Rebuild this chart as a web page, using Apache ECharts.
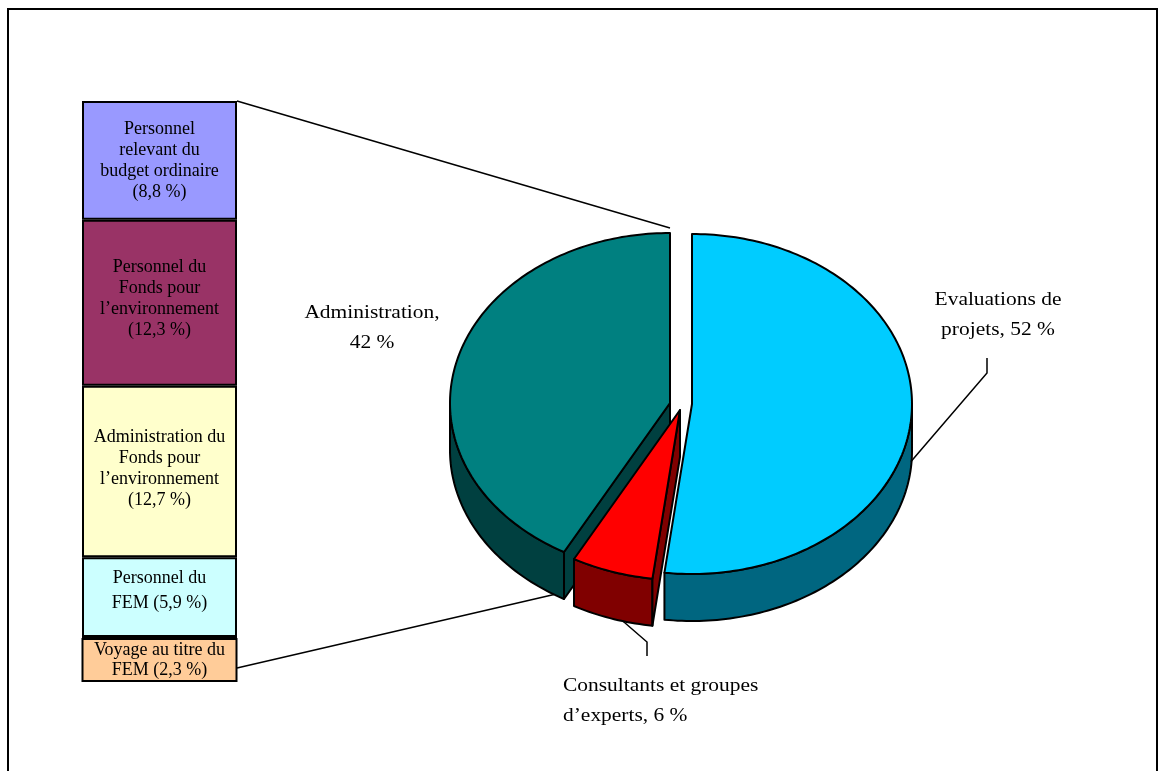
<!DOCTYPE html>
<html>
<head>
<meta charset="utf-8">
<script src="https://cdn.jsdelivr.net/npm/echarts@6/dist/echarts.min.js"></script>
<style>
  html, body { margin: 0; padding: 0; background: #fff; }
  #chart { width: 1161px; height: 771px; }
</style>
</head>
<body>
<div id="chart"></div>
<script>
// Main split of the budget (3-D pie)
const pieNames = ['Evaluations de\nprojets', 'Consultants et groupes\nd’experts', 'Administration'];
const pieValues = [52, 6, 42];
const pieValueSep = [' ', ' ', '\n'];

// Breakdown of the administration share (stacked bar)
const barCategories = ['Administration'];
const barNames = [
  'Personnel\nrelevant du\nbudget ordinaire',
  'Personnel du\nFonds pour\nl’environnement',
  'Administration du\nFonds pour\nl’environnement',
  'Personnel du\nFEM',
  'Voyage au titre du\nFEM'
];
const barValues = [8.8, 12.3, 12.7, 5.9, 2.3];
const barValueSep = ['\n', '\n', '\n', ' ', ' '];

// ---- styles ----
const FONT = '"Liberation Serif", "Times New Roman", serif';
const pieTopColors = ['#00CCFF', '#FF0000', '#008080'];
const pieSideColors = ['#006680', '#800000', '#004040'];
const barColors = ['#9999FF', '#993366', '#FFFFCC', '#CCFFFF', '#FFCC99'];

const PIE = { cx: 680, cy: 404, rx: 220, ry: 170, depth: 47 };
const explode = [[12, 0], [0, 6], [-10, -1]];
const sliceZ = [10, 20, 10];
const GRID = { left: 82, top: 101, width: 155, height: 567 };

const pieLabelLayout = [
  { x: 998, y: 315, align: 'center', leader: { angle: 96, dz: 40, elbow: [987, 373], end: [987, 358] } },
  { x: 563, y: 701, align: 'left', leader: { angle: 195, dz: 47, elbow: [647, 642], end: [647, 656] } },
  { x: 372, y: 328, align: 'center' }
];
const barLabelShift = [0, -4, -3, -6, 7.5];

const fmt = v => String(v).replace('.', ',');

// slice angles, clockwise from 12 o'clock
const pieTotal = pieValues.reduce((a, b) => a + b, 0);
const sliceAngles = [];
(function () {
  let acc = 0;
  pieValues.forEach(v => {
    const a0 = acc / pieTotal * Math.PI * 2;
    acc += v;
    sliceAngles.push([a0, acc / pieTotal * Math.PI * 2]);
  });
})();

function pt(i, t, dz) {
  const ox = PIE.cx + explode[i][0], oy = PIE.cy + explode[i][1];
  return [ox + PIE.rx * Math.sin(t), oy - PIE.ry * Math.cos(t) + (dz || 0)];
}
function ctr(i, dz) {
  return [PIE.cx + explode[i][0], PIE.cy + explode[i][1] + (dz || 0)];
}
function arc(i, a, b, dz) {
  const n = Math.max(2, Math.ceil((b - a) / 0.02));
  const pts = [];
  for (let k = 0; k <= n; k++) pts.push(pt(i, a + (b - a) * k / n, dz));
  return pts;
}

const edge = { stroke: '#000', lineWidth: 2, lineJoin: 'round' };

function renderSlice(params, api) {
  const i = params.dataIndex;
  const [a0, a1] = sliceAngles[i];
  const z = sliceZ[i];
  const d = PIE.depth;
  const children = [];

  // outer wall (front half only)
  const s = Math.max(a0, Math.PI / 2), e = Math.min(a1, Math.PI * 1.5);
  if (e > s) {
    const upper = arc(i, s, e, 0);
    const lower = arc(i, s, e, d).reverse();
    children.push({ type: 'polygon', z2: z, shape: { points: upper.concat(lower) },
      style: Object.assign({ fill: pieSideColors[i] }, edge) });
  }
  // radial cut faces turned toward the viewer
  const face = a => {
    const p = pt(i, a, 0), q = pt(i, a, d);
    children.push({ type: 'polygon', z2: z + 1,
      shape: { points: [ctr(i, 0), p, q, ctr(i, d)] },
      style: Object.assign({ fill: pieSideColors[i] }, edge) });
  };
  if (Math.sin(a0) < -1e-6) face(a0);
  if (Math.sin(a1) > 1e-6) face(a1);

  // top face
  children.push({ type: 'polygon', z2: z + 2,
    shape: { points: [ctr(i, 0)].concat(arc(i, a0, a1, 0)) },
    style: Object.assign({ fill: pieTopColors[i] }, edge) });

  // label + leader
  const L = pieLabelLayout[i];
  const text = pieNames[i] + ',' + pieValueSep[i] + fmt(pieValues[i]) + ' %';
  children.push({ type: 'text', z2: 40, x: L.x, y: L.y, scaleX: 1.1, originX: 0, originY: 0,
    style: { text: text, x: 0, y: 0, fill: '#000', fontSize: 19.5, fontFamily: FONT,
      align: L.align, verticalAlign: 'middle', lineHeight: 30 } });
  if (L.leader) {
    const st = pt(i, L.leader.angle * Math.PI / 180, L.leader.dz);
    children.push({ type: 'polyline', z2: 39,
      shape: { points: [st, L.leader.elbow, L.leader.end] },
      style: { stroke: '#000', lineWidth: 1.5, fill: null } });
  }
  return { type: 'group', children: children };
}

const chart = echarts.init(document.getElementById('chart'), null, { renderer: 'canvas' });

const barSeries = barValues.map((v, i) => ({
  type: 'bar',
  name: barNames[i],
  stack: 'admin',
  barWidth: '100%',
  data: [v],
  itemStyle: { color: barColors[i], borderColor: '#000', borderWidth: 2 },
  label: i === barValues.length - 1 ? {
    show: true, position: 'inside', offset: [0, barLabelShift[i]],
    formatter: () => barNames[i] + barValueSep[i] + '(' + fmt(v) + ' %)',
    color: '#000', fontFamily: FONT, fontSize: 18, lineHeight: 20,
    textBorderWidth: 0, width: 152, height: 40, align: 'center', verticalAlign: 'middle',
    backgroundColor: barColors[i], borderColor: '#000', borderWidth: 2, padding: 0
  } : {
    show: true, position: 'inside', offset: [0, barLabelShift[i]],
    formatter: () => barNames[i] + barValueSep[i] + '(' + fmt(v) + ' %)',
    color: '#000', fontFamily: FONT, fontSize: 18, lineHeight: i === 3 ? 25 : 21,
    textBorderWidth: 0
  }
}));

chart.setOption({
  animation: false,
  backgroundColor: '#fff',
  grid: { left: GRID.left, top: GRID.top, width: GRID.width, height: GRID.height },
  xAxis: { type: 'category', data: barCategories, show: false, boundaryGap: true },
  yAxis: { type: 'value', min: 0, max: 42, inverse: true, show: false },
  series: barSeries.concat([{
    type: 'custom',
    coordinateSystem: 'none',
    renderItem: renderSlice,
    data: pieValues.map((v, i) => ({ value: v, name: pieNames[i] }))
  }])
});

// frame and the connectors from the bar ends to the split slice
const barTop = chart.convertToPixel({ gridIndex: 0 }, [barCategories[0], 0]);
const barBottom = chart.convertToPixel({ gridIndex: 0 }, [barCategories[0], barValues.reduce((a, b) => a + b, 0)]);
const half = GRID.width / 2;
const adm = 2;
const admTop = pt(adm, sliceAngles[adm][1], -5);
const admLow = pt(adm, sliceAngles[adm][0] + 3 * Math.PI / 180, PIE.depth);

chart.setOption({
  graphic: [
    { type: 'rect', z: 0, shape: { x: 8, y: 9, width: 1149, height: 800 },
      style: { fill: null, stroke: '#000', lineWidth: 2 } },
    { type: 'line', z: 1, shape: { x1: barTop[0] + half, y1: barTop[1], x2: admTop[0], y2: admTop[1] },
      style: { stroke: '#000', lineWidth: 1.5 } },
    { type: 'line', z: 1, shape: { x1: barBottom[0] + half, y1: barBottom[1], x2: admLow[0], y2: admLow[1] },
      style: { stroke: '#000', lineWidth: 1.5 } }
  ]
});
</script>
</body>
</html>
